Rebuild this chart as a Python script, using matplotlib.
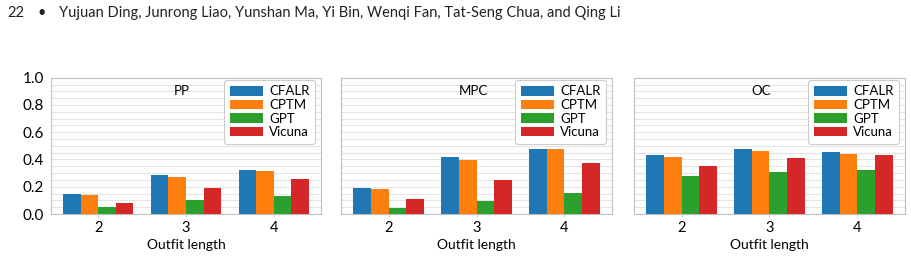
import numpy as np
import matplotlib
matplotlib.use('Agg')
import matplotlib.pyplot as plt
from matplotlib.ticker import MultipleLocator

plt.rcParams['font.family'] = ['Lato', 'DejaVu Sans']

lengths = ['2', '3', '4']
methods = ['CFALR', 'CPTM', 'GPT', 'Vicuna']
colors = ['#1f77b4', '#ff7f0e', '#2ca02c', '#d62728']

# scores per task, one list per method (outfit length 2, 3, 4)
pp = {
    'CFALR': [0.145, 0.284, 0.325],
    'CPTM': [0.137, 0.269, 0.318],
    'GPT': [0.050, 0.100, 0.134],
    'Vicuna': [0.083, 0.190, 0.257],
}
mpc = {
    'CFALR': [0.193, 0.420, 0.479],
    'CPTM': [0.181, 0.398, 0.479],
    'GPT': [0.044, 0.095, 0.152],
    'Vicuna': [0.110, 0.252, 0.374],
}
oc = {
    'CFALR': [0.430, 0.477, 0.452],
    'CPTM': [0.418, 0.465, 0.440],
    'GPT': [0.276, 0.308, 0.320],
    'Vicuna': [0.355, 0.408, 0.430],
}
tasks = [('PP', pp), ('MPC', mpc), ('OC', oc)]

fig = plt.figure(figsize=(9.12, 2.56), dpi=100)

# page header
hy = 1 - 13 / 256
fig.text(7 / 912, hy, '22', fontsize=10.5, va='center', color='#222222')
fig.text(38 / 912, hy, '\u2022', fontsize=10.5, va='center', color='#222222')
fig.text(59 / 912, hy,
         'Yujuan Ding, Junrong Liao, Yunshan Ma, Yi Bin, Wenqi Fan, Tat-Seng Chua, and Qing Li',
         fontsize=10.5, va='center', color='#222222')

lefts = [51, 341, 634]
widths = [270, 271, 271]
title_x = [0.485, 0.487, 0.47]
x = np.arange(len(lengths))
w = 0.2

for i, (name, data) in enumerate(tasks):
    ax = fig.add_axes([lefts[i] / 912, 1 - 214 / 256, widths[i] / 912, 136.3 / 256])
    for j, m in enumerate(methods):
        ax.bar(x + (j - 1.5) * w, data[m], w, color=colors[j], label=m, zorder=3)
    ax.set_ylim(0, 1.0)
    ax.yaxis.set_major_locator(MultipleLocator(0.2))
    ax.yaxis.set_minor_locator(MultipleLocator(0.05))
    ax.grid(axis='y', which='both', color='#e4e4e4', linewidth=0.8, zorder=0)
    ax.set_xticks(x)
    ax.set_xticklabels(lengths, fontsize=10.5)
    ax.set_xlabel('Outfit length', fontsize=10, labelpad=3)
    ax.tick_params(axis='y', which='both', length=0, labelsize=11, pad=5)
    ax.tick_params(axis='x', length=2, color='#cccccc', pad=3)
    if i > 0:
        ax.set_yticklabels([])
    for s in ax.spines.values():
        s.set_color('#c0c0c0')
        s.set_linewidth(0.8)
    ax.text(title_x[i], 0.9, name, transform=ax.transAxes, ha='center', va='center', fontsize=9.5)
    leg = ax.legend(loc='upper right', fontsize=9.5, handlelength=2.5, handleheight=0.75,
                    labelspacing=0.12, borderpad=0.4, handletextpad=0.5,
                    framealpha=1, edgecolor='#cccccc', fancybox=True,
                    borderaxespad=0, bbox_to_anchor=(1 - 6 / widths[i], 1 - 2.5 / 136.3))
    leg.get_frame().set_linewidth(0.8)

fig.savefig('out.png', dpi=100)
